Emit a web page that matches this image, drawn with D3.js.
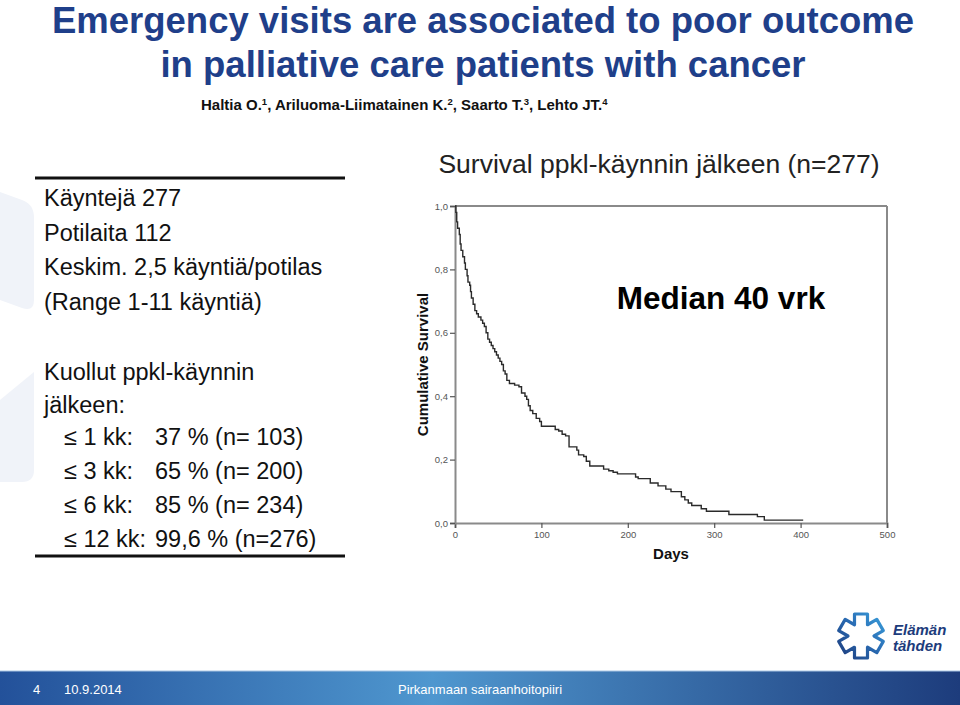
<!DOCTYPE html>
<html>
<head>
<meta charset="utf-8">
<script src="https://cdn.jsdelivr.net/npm/d3@7"></script>
<style>
  body { margin: 0; background: #fff; }
  svg { display: block; font-family: Arial, "Liberation Sans", sans-serif; }
</style>
</head>
<body>
<div id="chart"></div>
<script>
// --- DATA ---
const titleLines = ["Emergency visits are associated to poor outcome", "in palliative care patients with cancer"];
const authors = [["Haltia O.", "1"], [", Ariluoma-Liimatainen K.", "2"], [", Saarto T.", "3"], [", Lehto JT.", "4"]];
const infoLines = ["Käyntejä 277", "Potilaita 112", "Keskim. 2,5 käyntiä/potilas", "(Range 1-11 käyntiä)"];
const deathHead = ["Kuollut ppkl-käynnin", "jälkeen:"];
const deathPeriods = ["≤ 1 kk:", "≤ 3 kk:", "≤ 6 kk:", "≤ 12 kk:"];
const deathValues = ["37 % (n= 103)", "65 % (n= 200)", "85 % (n= 234)", "99,6 % (n=276)"];
const chartTitle = "Survival ppkl-käynnin jälkeen (n=277)";
const medianLabel = "Median 40 vrk";

// Kaplan-Meier-Stufen (Tage, Überleben)
const kmDays = [0, 1, 2, 3, 5, 6, 7, 9, 11, 12, 14, 15, 17, 18, 19, 21, 23, 25, 27, 30, 32, 34, 36, 38, 40, 42, 44, 46, 48, 50, 52, 54, 56, 58, 60, 63, 69, 74, 77, 81, 83, 85, 87, 90, 94, 98, 100, 116, 120, 124, 128, 132, 141, 143, 149, 152, 156, 172, 178, 183, 188, 209, 212, 226, 235, 244, 250, 262, 266, 270, 274, 285, 291, 317, 350, 358, 403];
const kmSurv = [1.0, 0.98, 0.95, 0.93, 0.91, 0.88, 0.86, 0.84, 0.82, 0.80, 0.78, 0.76, 0.75, 0.73, 0.71, 0.69, 0.67, 0.66, 0.65, 0.64, 0.63, 0.62, 0.60, 0.58, 0.57, 0.56, 0.55, 0.54, 0.53, 0.52, 0.51, 0.50, 0.48, 0.47, 0.45, 0.44, 0.435, 0.43, 0.41, 0.40, 0.39, 0.37, 0.355, 0.345, 0.33, 0.32, 0.305, 0.295, 0.29, 0.28, 0.275, 0.24, 0.23, 0.215, 0.21, 0.195, 0.18, 0.17, 0.165, 0.16, 0.155, 0.145, 0.14, 0.126, 0.117, 0.107, 0.099, 0.083, 0.073, 0.063, 0.055, 0.045, 0.037, 0.027, 0.02, 0.009, 0.009];

const xTicks = [0, 100, 200, 300, 400, 500];
const yTicks = [0, 0.2, 0.4, 0.6, 0.8, 1.0];

const footerLeft = ["4", "10.9.2014"];
const footerCenter = "Pirkanmaan sairaanhoitopiiri";
const logoText = ["Elämän", "tähden"];

// --- KONFIGURATION ---
const width = 960, height = 705;
const blue = "#1f3f8a";

const svg = d3.select("#chart").append("svg")
  .attr("width", width)
  .attr("height", height);

const defs = svg.append("defs");
const grad = defs.append("linearGradient").attr("id", "footGrad").attr("x1", "0%").attr("x2", "100%");
grad.append("stop").attr("offset", "0%").attr("stop-color", "#23519a");
grad.append("stop").attr("offset", "45%").attr("stop-color", "#4f97cf");
grad.append("stop").attr("offset", "100%").attr("stop-color", "#1d3c7c");

const logoGrad = defs.append("linearGradient").attr("id", "logoGrad")
  .attr("x1", "0%").attr("y1", "100%").attr("x2", "100%").attr("y2", "0%");
logoGrad.append("stop").attr("offset", "0%").attr("stop-color", "#1d3c7c");
logoGrad.append("stop").attr("offset", "55%").attr("stop-color", "#2a6db5");
logoGrad.append("stop").attr("offset", "100%").attr("stop-color", "#3aa0dc");

// Wasserzeichen am linken Rand
svg.append("path")
  .attr("d", "M0,192 L22,200 Q34,204 34,218 L34,300 Q34,312 22,308 L0,300 Z")
  .attr("fill", "#f0f3f9");
svg.append("path")
  .attr("d", "M0,400 L34,372 L34,470 Q34,482 22,482 L0,482 Z")
  .attr("fill", "#f0f3f9");

// --- TITEL ---
svg.selectAll("text.title")
  .data(titleLines)
  .join("text")
  .attr("class", "title")
  .attr("x", 483)
  .attr("y", (d, i) => 33 + i * 44)
  .attr("text-anchor", "middle")
  .attr("font-size", 36.5)
  .attr("font-weight", "bold")
  .attr("fill", blue)
  .text(d => d);

const auth = svg.append("text")
  .attr("x", 201).attr("y", 110)
  .attr("font-size", 15)
  .attr("font-weight", "bold")
  .attr("fill", "#111");
authors.forEach(([name, sup]) => {
  auth.append("tspan").text(name);
  auth.append("tspan").attr("font-size", 9.5).attr("baseline-shift", "super").text(sup);
});

// --- LINKE TEXTBOX ---
const box = svg.append("g").attr("fill", "#111").attr("font-size", 23.5);
box.append("line").attr("x1", 35).attr("x2", 345).attr("y1", 178).attr("y2", 178)
  .attr("stroke", "#111").attr("stroke-width", 3);
box.append("line").attr("x1", 35).attr("x2", 345).attr("y1", 556).attr("y2", 556)
  .attr("stroke", "#111").attr("stroke-width", 3);

box.selectAll("text.info").data(infoLines).join("text")
  .attr("class", "info")
  .attr("x", 44).attr("y", (d, i) => 206 + i * 34.5)
  .text(d => d);
box.selectAll("text.head").data(deathHead).join("text")
  .attr("class", "head")
  .attr("x", 44).attr("y", (d, i) => 380 + i * 33)
  .text(d => d);
box.selectAll("text.period").data(deathPeriods).join("text")
  .attr("class", "period")
  .attr("x", 64).attr("y", (d, i) => 445 + i * 34)
  .text(d => d);
box.selectAll("text.val").data(deathValues).join("text")
  .attr("class", "val")
  .attr("x", 155).attr("y", (d, i) => 445 + i * 34)
  .text(d => d);

// --- DIAGRAMM ---
svg.append("text")
  .attr("x", 659).attr("y", 173)
  .attr("text-anchor", "middle")
  .attr("font-size", 26.5)
  .attr("fill", "#222")
  .text(chartTitle);

const x = d3.scaleLinear().domain([0, 500]).range([455, 887]);
const y = d3.scaleLinear().domain([0, 1]).range([523, 206]);
const axisColor = "#8a8a8a";

const plot = svg.append("g");

// Rahmen oben und rechts
plot.append("line").attr("x1", x(0)).attr("x2", x(500)).attr("y1", y(1)).attr("y2", y(1))
  .attr("stroke", axisColor).attr("stroke-width", 2);
plot.append("line").attr("x1", x(500)).attr("x2", x(500)).attr("y1", y(1)).attr("y2", y(0))
  .attr("stroke", axisColor).attr("stroke-width", 2);

const fmt = d => d3.format(".1f")(d).replace(".", ",");

const xAxis = plot.append("g")
  .attr("transform", `translate(0,${y(0)})`)
  .call(d3.axisBottom(x).tickValues(xTicks).tickFormat(d3.format("d")).tickSize(5).tickPadding(3));
const yAxis = plot.append("g")
  .attr("transform", `translate(${x(0)},0)`)
  .call(d3.axisLeft(y).tickValues(yTicks).tickFormat(fmt).tickSize(5).tickPadding(2));

[xAxis, yAxis].forEach(g => {
  g.select(".domain").attr("stroke", axisColor).attr("stroke-width", 2);
  g.selectAll(".tick line").attr("stroke", "#555").attr("stroke-width", 1.2);
  g.selectAll(".tick text").attr("fill", "#555").attr("font-size", 9.5)
    .attr("font-family", "Arial, sans-serif");
});

// KM-Kurve
const kmData = kmDays.map((d, i) => ({ day: d, s: kmSurv[i] }));
const line = d3.line().x(d => x(d.day)).y(d => y(d.s)).curve(d3.curveStepAfter);
plot.append("path")
  .datum(kmData)
  .attr("d", line)
  .attr("fill", "none")
  .attr("stroke", "#2a2a2a")
  .attr("stroke-width", 1.4);

svg.append("text")
  .attr("transform", `translate(428,${(y(0) + y(1)) / 2}) rotate(-90)`)
  .attr("text-anchor", "middle")
  .attr("font-size", 15)
  .attr("font-weight", "bold")
  .attr("fill", "#111")
  .text("Cumulative Survival");
svg.append("text")
  .attr("x", 671).attr("y", 559)
  .attr("text-anchor", "middle")
  .attr("font-size", 15)
  .attr("font-weight", "bold")
  .attr("fill", "#111")
  .text("Days");

svg.append("text")
  .attr("x", 721).attr("y", 309)
  .attr("text-anchor", "middle")
  .attr("font-size", 31.5)
  .attr("font-weight", "bold")
  .attr("fill", "#000")
  .text(medianLabel);

// --- LOGO: sechsarmiger Stern als Umriss ---
const armW = 13, armL = 22;
const starPts = [];
d3.range(6).forEach(k => {
  const a = (k * 60 - 90) * Math.PI / 180;
  const px = -Math.sin(a), py = Math.cos(a);
  const cx = Math.cos(a) * armL, cy = Math.sin(a) * armL;
  starPts.push([cx - px * armW / 2, cy - py * armW / 2]);
  starPts.push([cx + px * armW / 2, cy + py * armW / 2]);
  const b = a + Math.PI / 6;
  starPts.push([Math.cos(b) * armW, Math.sin(b) * armW]);
});
const logo = svg.append("g").attr("transform", "translate(861,636)");
logo.append("path")
  .attr("d", d3.line().curve(d3.curveLinearClosed)(starPts))
  .attr("fill", "none")
  .attr("stroke", "url(#logoGrad)")
  .attr("stroke-width", 3.2)
  .attr("stroke-linejoin", "round");
svg.selectAll("text.logo").data(logoText).join("text")
  .attr("class", "logo")
  .attr("x", 893).attr("y", (d, i) => 635 + i * 16)
  .attr("font-size", 15)
  .attr("font-style", "italic")
  .attr("font-weight", "bold")
  .attr("fill", "#1d3c7c")
  .text(d => d);

// --- FUSSZEILE ---
svg.append("rect").attr("x", 0).attr("y", 671).attr("width", width).attr("height", 34)
  .attr("fill", "url(#footGrad)");
svg.append("line").attr("x1", 0).attr("x2", width).attr("y1", 671).attr("y2", 671)
  .attr("stroke", "#a9c6e4").attr("stroke-width", 1);
const foot = svg.append("g").attr("fill", "#fff").attr("font-size", 13)
  .attr("font-family", "'Liberation Sans Narrow', Arial, sans-serif");
foot.append("text").attr("x", 33).attr("y", 694).text(footerLeft[0]);
foot.append("text").attr("x", 64).attr("y", 694).text(footerLeft[1]);
foot.append("text").attr("x", 480).attr("y", 694).attr("text-anchor", "middle").text(footerCenter);
</script>
</body>
</html>
